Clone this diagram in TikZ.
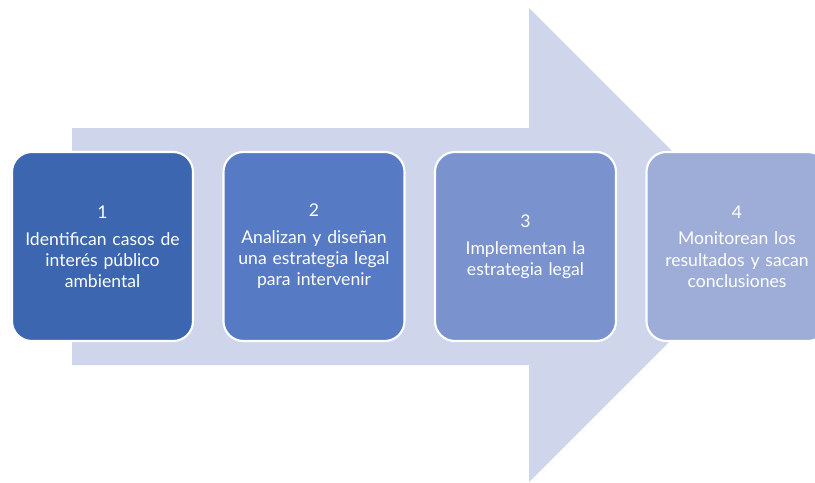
\documentclass[tikz,border=0pt]{standalone}
\usepackage{fontspec}
\setmainfont{Lato}
\usepackage{tikz}
\definecolor{arrowfill}{RGB}{207,214,235}
\definecolor{stepA}{RGB}{61,102,177}
\definecolor{stepB}{RGB}{86,122,196}
\definecolor{stepC}{RGB}{122,146,205}
\definecolor{stepD}{RGB}{157,173,216}
\tikzset{stepbox/.style={draw=white, line width=1.5pt, rounded corners=0.5cm,
    minimum width=4.525cm, minimum height=4.725cm, text width=4.2cm,
    align=center, text=white, font=\fontsize{12.5}{15}\selectfont}}

\begin{document}
\begin{tikzpicture}[x=0.025cm, y=-0.025cm]
\clip (0,0) rectangle (815,482);
\useasboundingbox (0,0) rectangle (815,482);
\fill[arrowfill] (72,128) -- (529,128) -- (529,8) -- (766,245) -- (529,482)
    -- (529,365) -- (72,365) -- cycle;
\foreach \i/\col/\txt in {1/stepA/{Identifican casos de\\interés público\\ambiental},
    2/stepB/{Analizan y diseñan\\una estrategia legal\\para intervenir},
    3/stepC/{Implementan la\\estrategia legal},
    4/stepD/{Monitorean los\\resultados y sacan\\conclusiones}} {
    \pgfmathsetmacro{\cx}{102.5 + 211.5*(\i - 1)}
    \node[stepbox, fill=\col] (step\i) at (\cx,246.5) {\i\\[4pt]\txt};
}
\end{tikzpicture}
\end{document}
